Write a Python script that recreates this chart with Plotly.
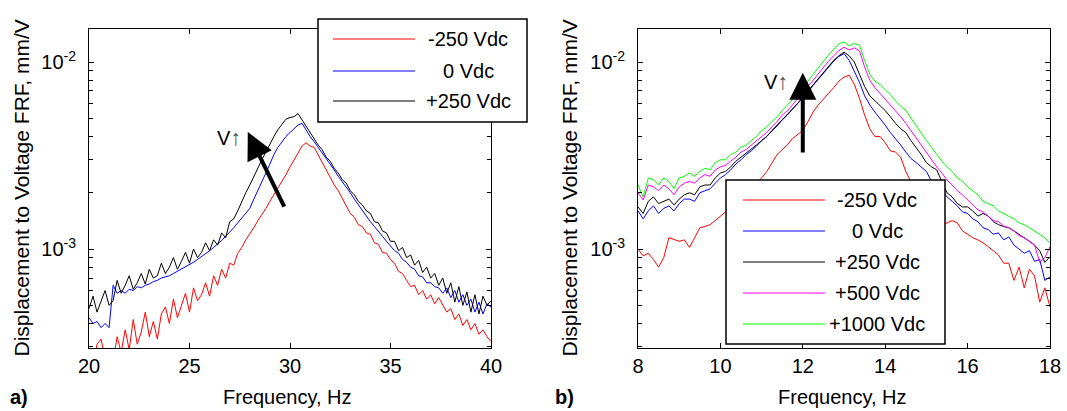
import numpy as np
import plotly.graph_objects as go

W, H = 1067, 411
FONT = "Liberation Sans, Arial, sans-serif"

# ---------------- data (FRF magnitude in 1e-3 mm/V) ----------------
# panel a): 20-40 Hz, 0.2 Hz steps
freq_a = np.round(np.arange(20.0, 40.01, 0.2), 1)
frf_a_m250 = [
    0.27, 0.24, 0.31, 0.33, 0.26, 0.29, 0.25, 0.34, 0.28, 0.37,
    0.29, 0.42, 0.31, 0.36, 0.46, 0.34, 0.41, 0.33, 0.45, 0.49,
    0.40, 0.54, 0.43, 0.50, 0.58, 0.46, 0.62, 0.53, 0.57, 0.66,
    0.56, 0.72, 0.64, 0.78, 0.70, 0.84, 0.82, 0.95, 1.02, 1.12,
    1.20, 1.30, 1.42, 1.52, 1.65, 1.80, 1.95, 2.10, 2.30, 2.50,
    2.75, 3.00, 3.30, 3.55, 3.70, 3.55, 3.50, 3.20, 2.90, 2.65,
    2.40, 2.20, 2.05, 1.85, 1.70, 1.55, 1.48, 1.35, 1.32, 1.22,
    1.20, 1.08, 1.06, 0.96, 0.95, 0.88, 0.84, 0.76, 0.74, 0.68,
    0.63, 0.64, 0.57, 0.60, 0.54, 0.57, 0.51, 0.55, 0.50, 0.46,
    0.48, 0.42, 0.45, 0.39, 0.42, 0.37, 0.40, 0.35, 0.37, 0.34,
    0.32,
]
frf_a_0 = [
    0.43, 0.40, 0.41, 0.38, 0.40, 0.38, 0.64, 0.58, 0.60, 0.58,
    0.61, 0.60, 0.63, 0.62, 0.64, 0.65, 0.67, 0.68, 0.70, 0.71,
    0.72, 0.74, 0.76, 0.78, 0.80, 0.82, 0.85, 0.88, 0.91, 0.94,
    0.98, 1.02, 1.06, 1.11, 1.17, 1.23, 1.30, 1.38, 1.47, 1.55,
    1.65, 1.85, 2.05, 2.30, 2.55, 2.85, 3.20, 3.50, 3.75, 4.00,
    4.20, 4.40, 4.60, 4.70, 4.30, 4.00, 3.75, 3.50, 3.30, 3.05,
    2.85, 2.65, 2.45, 2.30, 2.15, 2.00, 1.85, 1.72, 1.60, 1.50,
    1.40, 1.32, 1.25, 1.17, 1.10, 1.04, 0.98, 0.95, 0.88, 0.85,
    0.80, 0.78, 0.72, 0.71, 0.66, 0.66, 0.63, 0.62, 0.58, 0.62,
    0.55, 0.60, 0.52, 0.57, 0.50, 0.54, 0.46, 0.52, 0.45, 0.51,
    0.49,
]
frf_a_p250 = [
    0.48, 0.56, 0.46, 0.52, 0.60, 0.50, 0.53, 0.68, 0.58, 0.64,
    0.72, 0.61, 0.66, 0.74, 0.65, 0.78, 0.70, 0.72, 0.84, 0.74,
    0.80, 0.90, 0.78, 0.86, 0.96, 0.84, 1.00, 0.90, 0.96, 1.08,
    0.98, 1.12, 1.05, 1.22, 1.15, 1.40, 1.45, 1.60, 1.80, 2.00,
    2.20, 2.45, 2.70, 3.00, 3.30, 3.65, 4.00, 4.35, 4.65, 4.95,
    5.05, 5.10, 5.30, 4.90, 4.50, 4.20, 3.90, 3.60, 3.40, 3.10,
    2.95, 2.70, 2.55, 2.35, 2.25, 2.05, 1.95, 1.80, 1.72, 1.60,
    1.55, 1.40, 1.38, 1.25, 1.22, 1.10, 1.10, 0.98, 1.02, 0.90,
    0.93, 0.82, 0.87, 0.75, 0.80, 0.70, 0.74, 0.64, 0.70, 0.58,
    0.66, 0.52, 0.63, 0.50, 0.59, 0.46, 0.57, 0.45, 0.56, 0.50,
    0.53,
]

# panel b): 8-18 Hz, 0.125 Hz steps
freq_b = np.arange(8.0, 18.01, 0.125)
frf_b_m250 = [
    1.00, 0.92, 0.95, 0.88, 0.80, 0.90, 1.15, 1.12, 1.10, 1.12,
    1.02, 1.15, 1.30, 1.32, 1.35, 1.42, 1.50, 1.58, 1.65, 1.75,
    1.83, 1.95, 2.10, 2.25, 2.40, 2.60, 2.90, 3.20, 3.40, 3.60,
    3.90, 4.10, 4.30, 4.80, 5.40, 5.90, 6.30, 6.80, 7.30, 7.90,
    8.30, 8.50, 7.60, 6.40, 5.20, 4.40, 4.00, 4.00, 3.70, 3.35,
    3.30, 3.10, 2.60, 2.30, 2.00, 1.75, 1.55, 1.45, 1.40, 1.35,
    1.38, 1.42, 1.38, 1.25, 1.20, 1.15, 1.12, 1.08, 1.03, 0.98,
    0.93, 0.84, 0.84, 0.68, 0.80, 0.62, 0.78, 0.72, 0.52, 0.62,
    0.49,
]
frf_b_0 = [
    1.60, 1.45, 1.60, 1.70, 1.55, 1.65, 1.70, 1.60, 1.75, 1.85,
    1.85, 1.80, 2.00, 2.05, 2.10, 2.25, 2.40, 2.50, 2.65, 2.85,
    3.00, 3.20, 3.35, 3.55, 3.80, 4.00, 4.25, 4.55, 4.90, 5.20,
    5.60, 6.00, 6.40, 6.90, 7.50, 8.10, 8.70, 9.40, 10.1, 10.7,
    11.1, 10.2, 9.00, 7.80, 6.60, 5.90, 5.40, 5.00, 4.60, 4.20,
    3.90, 3.60, 3.30, 3.05, 2.90, 2.75, 2.60, 2.30, 2.10, 2.05,
    1.90, 1.80, 1.70, 1.58, 1.55, 1.45, 1.40, 1.30, 1.27, 1.20,
    1.22, 1.12, 1.16, 1.05, 1.00, 0.95, 0.98, 0.86, 0.88, 0.68,
    0.71,
]
frf_b_p250 = [
    1.68, 1.55, 1.80, 1.90, 1.75, 1.80, 1.85, 1.72, 1.85, 1.95,
    2.00, 1.95, 2.15, 2.20, 2.20, 2.40, 2.55, 2.60, 2.75, 2.95,
    3.10, 3.25, 3.40, 3.60, 3.80, 4.00, 4.30, 4.60, 4.90, 5.30,
    5.60, 6.00, 6.50, 7.00, 7.60, 8.20, 8.80, 9.50, 10.2, 10.8,
    11.3, 10.8, 10.0, 8.60, 7.40, 6.60, 6.20, 5.80, 5.50, 5.10,
    4.70, 4.40, 4.20, 3.80, 3.50, 3.20, 2.90, 2.75, 2.65, 2.30,
    2.00, 1.90, 1.75, 1.68, 1.68, 1.60, 1.50, 1.55, 1.50, 1.40,
    1.35, 1.32, 1.30, 1.25, 1.20, 1.15, 1.10, 1.05, 0.98, 0.85,
    0.91,
]
frf_b_p500 = [
    2.00, 1.83, 2.20, 2.15, 2.05, 2.20, 2.10, 1.95, 2.15, 2.25,
    2.30, 2.25, 2.40, 2.50, 2.45, 2.65, 2.75, 2.80, 2.95, 3.10,
    3.30, 3.40, 3.60, 3.80, 4.00, 4.20, 4.50, 4.80, 5.20, 5.50,
    5.90, 6.40, 6.90, 7.40, 8.00, 8.70, 9.40, 10.1, 10.8, 11.5,
    12.0, 11.6, 11.9, 11.5, 9.40, 8.00, 7.30, 6.80, 6.30, 5.90,
    5.50, 5.10, 4.70, 4.30, 3.90, 3.60, 3.30, 3.00, 2.75, 2.55,
    2.34, 2.20, 2.05, 1.95, 1.83, 1.72, 1.62, 1.58, 1.50, 1.42,
    1.40, 1.33, 1.30, 1.25, 1.18, 1.15, 1.10, 1.05, 0.85, 0.90,
    1.03,
]
frf_b_p1000 = [
    2.20, 1.90, 2.40, 2.35, 2.20, 2.40, 2.30, 2.10, 2.40, 2.45,
    2.55, 2.45, 2.60, 2.70, 2.65, 2.90, 3.00, 3.00, 3.20, 3.30,
    3.50, 3.60, 3.80, 4.00, 4.30, 4.50, 4.80, 5.10, 5.50, 5.90,
    6.30, 6.90, 7.40, 7.90, 8.60, 9.30, 10.2, 10.9, 11.7, 12.5,
    12.8, 12.2, 12.6, 12.3, 10.2, 8.60, 7.90, 7.60, 7.10, 6.70,
    6.20, 5.80, 5.50, 5.00, 4.60, 4.20, 3.80, 3.50, 3.20, 2.95,
    2.75, 2.60, 2.40, 2.30, 2.15, 2.05, 1.95, 1.80, 1.75, 1.70,
    1.60, 1.55, 1.50, 1.45, 1.38, 1.35, 1.30, 1.25, 1.20, 1.15,
    1.07,
]

names_a = ["-250 Vdc", "0 Vdc", "+250 Vdc"]
names_b = ["-250 Vdc", "0 Vdc", "+250 Vdc", "+500 Vdc", "+1000 Vdc"]
colors = ["#ff0000", "#0000ff", "#000000", "#ff00ff", "#00ff00"]
x_ticks_a = [20, 25, 30, 35, 40]
x_ticks_b = [8, 10, 12, 14, 16, 18]
y_ticks = [1e-3, 1e-2]
y_tick_text = ["10<sup>-3</sup>", "10<sup>-2</sup>"]
y_minor = [k * 10.0 ** e for e in (-4, -3, -2) for k in range(2, 10)]


def px(x):
    return x / W


def py(y):
    return 1 - y / H


fig = go.Figure()
for name, vals, col in zip(names_a, [frf_a_m250, frf_a_0, frf_a_p250], colors):
    fig.add_trace(go.Scatter(x=freq_a, y=np.array(vals) * 1e-3, name=name, mode="lines",
                             line=dict(color=col, width=1), xaxis="x", yaxis="y", showlegend=False))
for name, vals, col in zip(names_b, [frf_b_m250, frf_b_0, frf_b_p250, frf_b_p500, frf_b_p1000], colors):
    fig.add_trace(go.Scatter(x=freq_b, y=np.array(vals) * 1e-3, name=name, mode="lines",
                             line=dict(color=col, width=1), xaxis="x2", yaxis="y2", showlegend=False))

axis = dict(showline=True, linecolor="black", linewidth=1, mirror="ticks", ticks="inside",
            ticklen=5, tickcolor="black", showgrid=False, zeroline=False, automargin=False,
            ticklabeloverflow="allow", tickfont=dict(family=FONT, size=20, color="black"))
yaxis = dict(axis, type="log", range=[-3.529, -1.8235], tickvals=y_ticks, ticktext=y_tick_text,
             ticklabelstandoff=8,
             minor=dict(tickvals=y_minor, ticks="inside", ticklen=4, tickcolor="black", showgrid=False))

fig.update_layout(
    width=W, height=H, template="none",
    margin=dict(l=0, r=0, t=0, b=0),
    paper_bgcolor="white", plot_bgcolor="white",
    font=dict(family=FONT, size=20, color="black"),
    xaxis=dict(axis, domain=[px(89), px(491)], range=[20, 40], tickvals=x_ticks_a, anchor="y"),
    yaxis=dict(yaxis, domain=[py(348), py(29)], anchor="x"),
    xaxis2=dict(axis, domain=[px(638), px(1050)], range=[8, 18], tickvals=x_ticks_b, anchor="y2"),
    yaxis2=dict(yaxis, domain=[py(348), py(29)], anchor="x2"),
)

ann = []
shapes = []
center = dict(xref="paper", yref="paper", showarrow=False, xanchor="center", yanchor="middle")
# axis titles and panel labels
for xc, xt_c, lab, lab_x in [(20.5, 287, "a)", 19), (568.5, 842, "b)", 564)]:
    ann.append(dict(center, text="Displacement to Voltage FRF, mm/V", textangle=-90, x=px(xc), y=py(188),
                    font=dict(size=21)))
    ann.append(dict(center, text="Frequency, Hz", x=px(xt_c), y=py(397), font=dict(size=20)))
    ann.append(dict(center, text="<b>" + lab + "</b>", x=px(lab_x), y=py(397), font=dict(size=20)))

# voltage arrows
ann.append(dict(x=27.9, y=-2.374, ax=29.75, ay=-2.781, xref="x", yref="y", axref="x", ayref="y",
                showarrow=True, arrowhead=2, arrowwidth=4, arrowsize=1.35, arrowcolor="black", text=""))
ann.append(dict(x=12.0, y=-2.057, ax=12.0, ay=-2.492, xref="x2", yref="y2", axref="x2", ayref="y2",
                showarrow=True, arrowhead=2, arrowwidth=4, arrowsize=1.35, arrowcolor="black", text=""))
for xa, ya, xr, yr in [(26.95, -2.406, "x", "y"), (11.35, -2.102, "x2", "y2")]:
    ann.append(dict(text="V<span style='color:#555555;font-size:22px'>\u2191</span>", x=xa, y=ya,
                    xref=xr, yref=yr, showarrow=False, xanchor="center", yanchor="middle",
                    font=dict(size=20)))

# legends drawn as boxes with line samples
legends = [
    (names_a, (318, 527, 19, 122), (333, 415), 468, [39, 71, 101]),
    (names_b, (726, 945, 180, 344), (743, 825), 877, [200, 231, 262, 293, 324]),
]
for names, (bx0, bx1, by0, by1), (lx0, lx1), tx, rows in legends:
    shapes.append(dict(type="rect", xref="paper", yref="paper", x0=px(bx0), x1=px(bx1), y0=py(by1),
                       y1=py(by0), fillcolor="white", line=dict(color="black", width=1.5), layer="above"))
    for name, col, yy in zip(names, colors, rows):
        shapes.append(dict(type="line", xref="paper", yref="paper", x0=px(lx0), x1=px(lx1), y0=py(yy),
                           y1=py(yy), line=dict(color=col, width=1.2), layer="above"))
        ann.append(dict(center, text=name, x=px(tx), y=py(yy), font=dict(size=20)))

fig.update_layout(annotations=ann, shapes=shapes)
fig.write_html("out.html", config={"displayModeBar": False},
               post_script="document.body.style.margin='0px';")
